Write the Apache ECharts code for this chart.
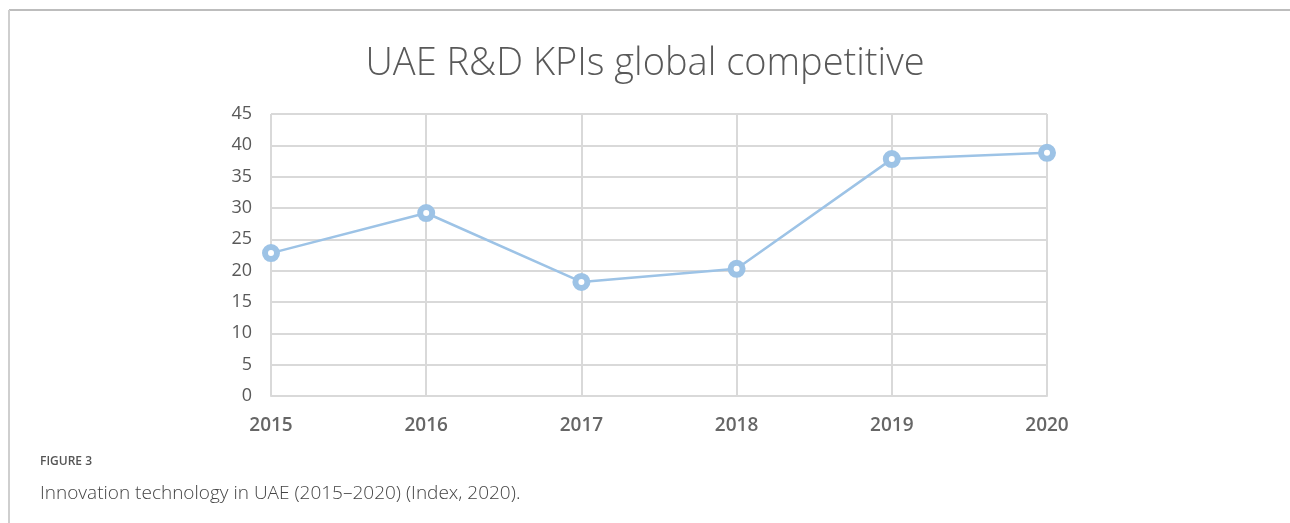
<!DOCTYPE html>
<html>
<head>
<meta charset="utf-8">
<script src="https://cdn.jsdelivr.net/npm/echarts@6/dist/echarts.min.js"></script>
<style>
  html, body { margin: 0; padding: 0; background: #fff; }
  #chart { width: 1290px; height: 523px; }
</style>
</head>
<body>
<div id="chart"></div>
<script>
// data
const years = ['2015', '2016', '2017', '2018', '2019', '2020'];
const kpiValues = [22.8, 29.2, 18.2, 20.3, 37.8, 38.8];
const yTicks = { min: 0, max: 45, interval: 5 };

const lineBlue = '#9dc3e6';
const axisGray = '#595959';

const chart = echarts.init(document.getElementById('chart'), null, { renderer: 'canvas' });

chart.setOption({
  animation: false,
  backgroundColor: '#fff',
  title: {
    text: 'UAE R&D KPIs global competitive',
    left: 'center',
    top: 40,
    textStyle: { fontFamily: 'Open Sans', fontWeight: 300, fontSize: 38, color: '#595959' }
  },
  grid: { left: 271, right: 243, top: 114, bottom: 127 },
  xAxis: {
    type: 'category',
    data: years,
    boundaryGap: false,
    axisLine: { show: true, lineStyle: { color: '#d9d9d9', width: 2 } },
    axisTick: { show: false },
    splitLine: { show: true, lineStyle: { color: '#d9d9d9', width: 2 } },
    axisLabel: { margin: 20, fontFamily: 'Open Sans', fontWeight: 600, fontSize: 19, color: '#666' }
  },
  yAxis: {
    type: 'value',
    min: yTicks.min,
    max: yTicks.max,
    interval: yTicks.interval,
    axisLine: { show: false },
    axisTick: { show: false },
    splitLine: { lineStyle: { color: '#d9d9d9', width: 2 } },
    axisLabel: { margin: 19, fontFamily: 'Open Sans', fontSize: 18, color: axisGray }
  },
  series: [{
    type: 'line',
    data: kpiValues,
    symbol: 'circle',
    symbolSize: 12,
    lineStyle: { color: lineBlue, width: 2.5 },
    itemStyle: { color: '#fff', borderColor: lineBlue, borderWidth: 6 }
  }],
  graphic: [
    { type: 'line', shape: { x1: 9, y1: 10, x2: 1290, y2: 10 }, style: { stroke: '#bdbdbd', lineWidth: 2 } },
    { type: 'line', shape: { x1: 9, y1: 10, x2: 9, y2: 523 }, style: { stroke: '#cfcfcf', lineWidth: 2 } },
    { type: 'text', left: 40, top: 456, style: { text: 'FIGURE 3', font: '600 12px "Open Sans"', fill: '#555' } },
    { type: 'text', left: 40, top: 484, style: { text: 'Innovation technology in UAE (2015\u20132020) (Index, 2020).', font: '300 19px "Open Sans"', fill: '#444' } }
  ]
});
</script>
</body>
</html>
